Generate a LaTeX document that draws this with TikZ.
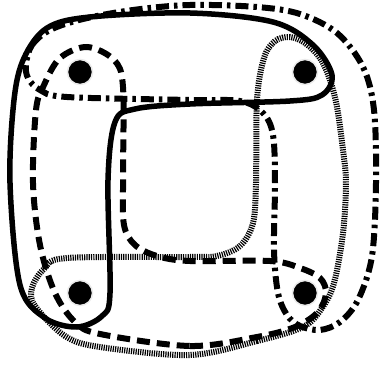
\documentclass[tikz,border=0pt]{standalone}
\usepackage{tikz}
\definecolor{loopline}{RGB}{0,0,0}
\definecolor{halo}{RGB}{235,235,235}
\tikzset{
  solidloop/.style={
    draw=loopline,
    line width=5.5pt
  },
  dashloop/.style={
    draw=loopline,
    line width=6pt,
    dash pattern=on 13pt off 7pt
  },
  dashdotloop/.style={
    draw=loopline,
    line width=6pt,
    dash pattern=on 13pt off 5pt on 3.5pt off 5pt
  },
  hatchloop/.style={
    draw=loopline,
    line width=6pt,
    dash pattern=on 1.2pt off 1.1pt
  },
  point/.style={
    circle,
    fill=black,
    draw=halo,
    line width=1.5pt,
    minimum size=25pt,
    inner sep=0pt
  }
}

\begin{document}
\begin{tikzpicture}[x=1pt,y=-1pt]
  \useasboundingbox (0,0) rectangle (380,366);

  \draw[solidloop] plot[smooth cycle, tension=0.55] coordinates {
    (77,327) (45,318) (20,285) (10,183) (14,100) (24,58) (47,28) (90,17)
    (190,13) (273,22) (313,45) (332,75) (322,95) (290,101) (190,104)
    (135,109) (115,122) (108,180) (110,293) (102,316)};

  \draw[dashloop] plot[smooth cycle, tension=0.55] coordinates {
    (100,334) (190,346) (257,337) (295,327) (318,312) (326,293) (320,278)
    (300,268) (270,261) (190,261) (157,256) (135,245) (124,225) (123,180)
    (123,87) (114,60) (87,47) (60,58) (44,85) (36,110) (33,183) (40,245)
    (55,293) (75,322)};

  \draw[dashdotloop] plot[smooth cycle, tension=0.55] coordinates {
    (26,64) (32,45) (50,30) (83,19) (133,10) (190,5) (257,7) (300,14)
    (337,33) (363,67) (374,110) (376,183) (372,256) (358,300) (340,322)
    (320,330) (300,326) (287,315) (278,293) (274,250) (275,183) (273,135)
    (263,113) (240,101) (190,100) (67,97) (40,90) (28,78)};

  \draw[hatchloop] plot[smooth cycle, tension=0.55] coordinates {
    (190,355) (257,341) (303,327) (322,308) (334,283) (343,233) (346,183)
    (343,150) (337,107) (330,80) (320,58) (305,43) (290,37) (275,41)
    (264,58) (257,100) (256,183) (253,223) (240,246) (217,256) (190,257)
    (67,258) (44,269) (32,288) (35,306) (65,336) (100,347)};

  \node[point] (tl) at (80,72) {};
  \node[point] (tr) at (305,72) {};
  \node[point] (bl) at (80,293) {};
  \node[point] (br) at (305,293) {};
\end{tikzpicture}
\end{document}
